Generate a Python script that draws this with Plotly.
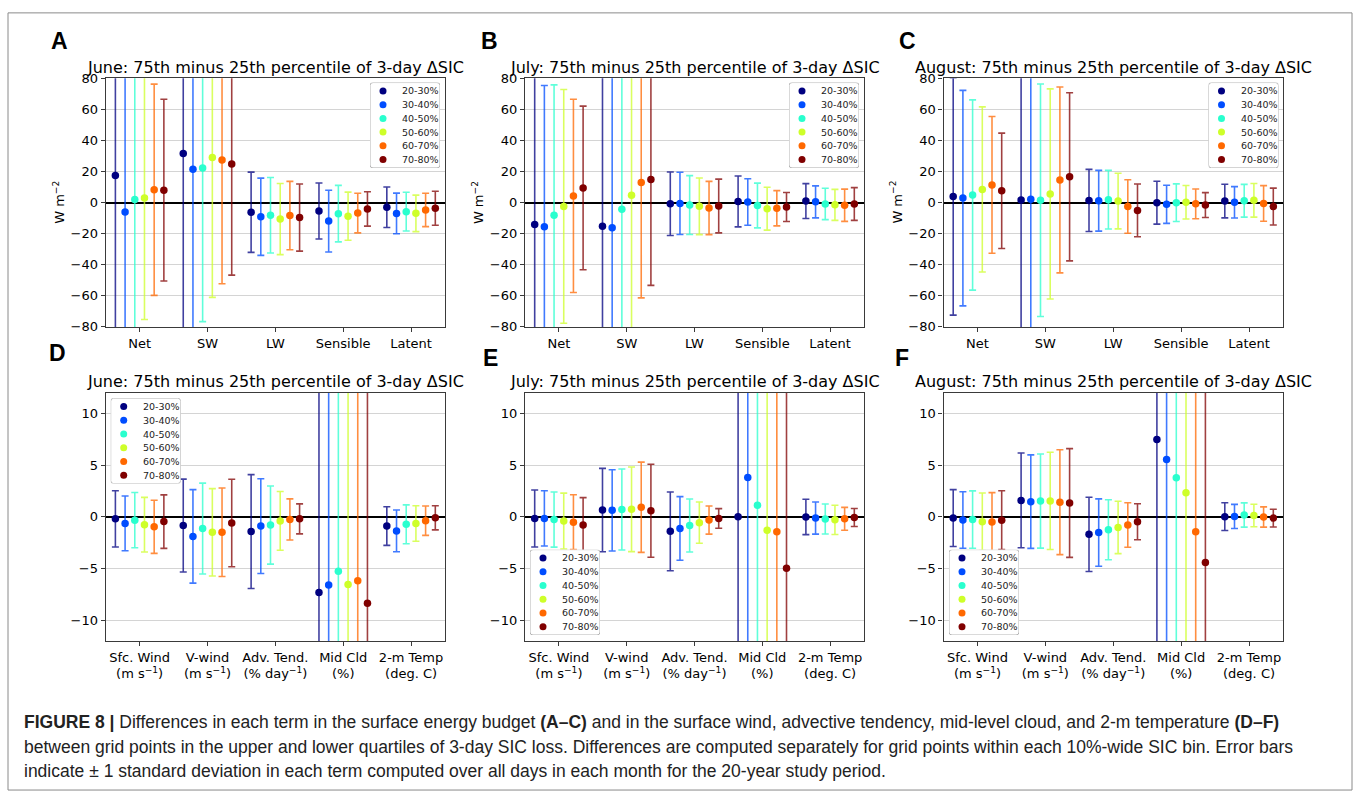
import plotly.graph_objects as go

W, H = 1354, 800

bins = ["20-30%", "30-40%", "40-50%", "50-60%", "60-70%", "70-80%"]
bin_colors = ["#000080", "#004dff", "#29ffce", "#ceff29", "#ff6800", "#800000"]
bar_colors = ["rgba(0,0,128,0.75)", "rgba(0,77,255,0.75)", "rgba(41,255,206,0.75)",
              "rgba(206,255,41,0.75)", "rgba(255,104,0,0.75)", "rgba(128,0,0,0.75)"]

energy_terms = ["Net", "SW", "LW", "Sensible", "Latent"]
met_terms = ["Sfc. Wind<br>(m s<sup>−1</sup>)", "V-wind<br>(m s<sup>−1</sup>)",
             "Adv. Tend.<br>(% day<sup>−1</sup>)", "Mid Cld<br>(%)", "2-m Temp<br>(deg. C)"]

energy_ticks = [-80, -60, -40, -20, 0, 20, 40, 60, 80]
energy_ticktext = ["−80", "−60", "−40", "−20", "0", "20", "40", "60", "80"]
met_ticks = [-10, -5, 0, 5, 10]
met_ticktext = ["−10", "−5", "0", "5", "10"]

# rows: SIC bins (20-30% ... 70-80%); columns: Net, SW, LW, Sensible, Latent
june_energy_mean = [[17.5, 31.6, -6.2, -5.4, -2.95],
                    [-6.0, 21.5, -9.1, -11.9, -6.95],
                    [2.0, 22.3, -8.1, -7.1, -5.8],
                    [3.0, 29.0, -10.6, -8.75, -6.9],
                    [8.3, 27.4, -8.3, -6.7, -4.7],
                    [8.0, 24.8, -9.6, -4.1, -3.6]]
june_energy_std = [[110, 120, 25.8, 18.0, 13.05],
                   [100, 115, 24.85, 19.9, 13.05],
                   [95, 98.9, 24.3, 18.2, 12.5],
                   [78.2, 90.0, 22.9, 15.5, 11.75],
                   [68.0, 79.6, 22.0, 12.75, 10.75],
                   [58.5, 71.5, 21.6, 11.05, 10.95]]

july_energy_mean = [[-14.1, -15.2, -0.7, 0.75, 1.0],
                    [-15.6, -16.2, -0.5, 0.4, 0.5],
                    [-8.2, -4.2, -1.6, -1.85, -0.85],
                    [-2.45, 4.8, -2.4, -3.9, -1.45],
                    [4.3, 13.0, -3.45, -3.6, -1.7],
                    [9.45, 14.9, -2.2, -2.85, -0.9]]
july_energy_std = [[100, 110, 20.45, 16.35, 11.25],
                   [91, 110, 20.0, 14.95, 10.3],
                   [84, 95, 18.95, 14.4, 10.1],
                   [75.25, 92, 18.2, 13.8, 10.0],
                   [62.2, 74.3, 17.15, 11.35, 10.4],
                   [52.65, 68.2, 17.3, 9.35, 10.55]]

august_energy_mean = [[4.0, 1.7, 1.4, -0.05, 1.0],
                      [2.9, 2.1, 1.2, -1.1, 0.2],
                      [4.9, 1.5, 1.9, -0.05, 1.2],
                      [8.5, 5.6, 1.0, 0.25, 1.5],
                      [11.4, 14.6, -2.5, -0.8, -0.5],
                      [7.6, 16.6, -5.0, -1.6, -2.55]]
august_energy_std = [[76.4, 95, 20.0, 13.8, 10.85],
                     [69.35, 90, 19.55, 12.25, 10.1],
                     [61.25, 74.85, 18.85, 12.1, 10.55],
                     [53.15, 67.6, 17.9, 10.8, 10.85],
                     [44.0, 59.8, 17.25, 9.55, 11.45],
                     [37.15, 54.1, 16.95, 8.0, 11.9]]

# rows: SIC bins; columns: Sfc. Wind, V-wind, Adv. Tend., Mid Cld, 2-m Temp
june_met_mean = [[-0.2, -0.85, -1.43, -7.33, -0.9],
                 [-0.64, -1.9, -0.9, -6.6, -1.37],
                 [-0.33, -1.14, -0.8, -5.28, -0.73],
                 [-0.77, -1.5, -0.4, -6.54, -0.65],
                 [-0.97, -1.5, -0.26, -6.19, -0.38],
                 [-0.47, -0.6, -0.2, -8.37, -0.1]]
june_met_std = [[2.72, 4.49, 5.5, 25, 1.87],
                [2.64, 4.52, 4.58, 24, 2.02],
                [2.67, 4.39, 3.78, 23, 1.88],
                [2.64, 4.22, 2.84, 23, 1.72],
                [2.57, 4.28, 1.99, 22, 1.42],
                [2.59, 4.23, 1.45, 24, 1.17]]

july_met_mean = [[-0.17, 0.65, -1.41, 0.0, -0.02],
                 [-0.16, 0.62, -1.13, 3.79, -0.13],
                 [-0.27, 0.7, -0.85, 1.11, -0.22],
                 [-0.42, 0.72, -0.57, -1.3, -0.3],
                 [-0.52, 0.92, -0.32, -1.45, -0.2],
                 [-0.8, 0.58, -0.16, -4.99, -0.07]]
july_met_std = [[2.75, 4.03, 3.81, 20, 1.71],
                [2.67, 3.93, 3.08, 22, 1.55],
                [2.67, 3.92, 2.56, 20, 1.45],
                [2.7, 4.09, 1.99, 20, 1.41],
                [2.65, 4.36, 1.36, 20, 1.11],
                [2.65, 4.49, 0.95, 22, 0.87]]

august_met_mean = [[-0.13, 1.58, -1.7, 7.46, 0.01],
                   [-0.31, 1.46, -1.53, 5.53, 0.03],
                   [-0.27, 1.52, -1.25, 3.76, 0.17],
                   [-0.49, 1.53, -1.03, 2.31, 0.12],
                   [-0.5, 1.41, -0.8, -1.45, -0.02],
                   [-0.33, 1.33, -0.48, -4.42, -0.13]]
august_met_std = [[2.75, 4.58, 3.59, 25, 1.34],
                  [2.73, 4.52, 3.26, 24, 1.17],
                  [2.77, 4.55, 2.9, 22, 1.17],
                  [2.78, 4.7, 2.53, 20, 1.09],
                  [2.83, 5.07, 2.15, 20, 0.98],
                  [2.84, 5.26, 1.74, 22, 0.86]]

title_suffix = ": 75th minus 25th percentile of 3-day ΔSIC"

panels = [
    dict(letter="A", month="June", terms=energy_terms, mean=june_energy_mean, std=june_energy_std, energy=True),
    dict(letter="B", month="July", terms=energy_terms, mean=july_energy_mean, std=july_energy_std, energy=True),
    dict(letter="C", month="August", terms=energy_terms, mean=august_energy_mean, std=august_energy_std, energy=True),
    dict(letter="D", month="June", terms=met_terms, mean=june_met_mean, std=june_met_std, energy=False),
    dict(letter="E", month="July", terms=met_terms, mean=july_met_mean, std=july_met_std, energy=False),
    dict(letter="F", month="August", terms=met_terms, mean=august_met_mean, std=august_met_std, energy=False),
]

# layout geometry in pixels
col_x = [(105.7, 445.0), (525.0, 864.0), (943.5, 1283.0)]
row_y = [(72.7, 326.0), (393.0, 646.0)]
letter_pos = [(59.5, 34.5), (489, 34.5), (907, 34.5), (57.5, 353), (490, 358), (902, 358)]
# legend (key) box: left x, top y in pixels
key_box = [(370, 77), (789, 77), (1208.5, 77), (110.7, 398.7), (530, 553), (949, 553)]
KEY_W, KEY_H, KEY_MARK_X, KEY_TEXT_X, KEY_TOP_PAD, KEY_ROW = 70, 87, 13, 30, 8.5, 14


def px(x):
    return x / W


def py(y):
    return 1 - y / H


fig = go.Figure()
layout = dict(width=W, height=H, margin=dict(l=0, r=0, t=0, b=0),
              paper_bgcolor="white", plot_bgcolor="white",
              font=dict(family="DejaVu Sans", color="black", size=13),
              showlegend=False)
annotations = []
shapes = []

n_bins = len(bins)
for k, p in enumerate(panels):
    r, c = divmod(k, 3)
    ax_suffix = "" if k == 0 else str(k + 1)
    xref = "x" + ax_suffix
    yref = "y" + ax_suffix
    for j in range(n_bins):
        xs = [i + (j - (n_bins - 1) / 2) / 7 for i in range(len(p["terms"]))]
        fig.add_trace(go.Scatter(
            x=xs, y=p["mean"][j], mode="markers", name=bins[j],
            marker=dict(color=bin_colors[j], size=7.5, line=dict(width=0)),
            error_y=dict(type="data", array=p["std"][j], visible=True,
                         color=bar_colors[j], thickness=1.6, width=3.5),
            xaxis=xref, yaxis=yref, showlegend=False))
    x0, x1 = col_x[c]
    y0, y1 = row_y[r]
    layout["xaxis" + ax_suffix] = dict(
        domain=[px(x0), px(x1)], anchor=yref, range=[-0.5, 4.5],
        tickmode="array", tickvals=list(range(len(p["terms"]))), ticktext=p["terms"],
        showgrid=False, zeroline=False, showline=True, mirror=True,
        linecolor="#3a3a3a", linewidth=1.2, ticks="outside", ticklen=4,
        tickcolor="#3a3a3a", tickfont=dict(size=13, family="DejaVu Sans", color="black"))
    if p["energy"]:
        yr, tv, tt = [-80, 80], energy_ticks, energy_ticktext
    else:
        yr, tv, tt = [-12, 12], met_ticks, met_ticktext
    layout["yaxis" + ax_suffix] = dict(
        domain=[py(y1), py(y0)], anchor=xref, range=yr,
        tickmode="array", tickvals=tv, ticktext=tt,
        showgrid=True, gridcolor="#d4d4d4", gridwidth=1,
        zeroline=True, zerolinecolor="black", zerolinewidth=2,
        showline=True, mirror=True, linecolor="#3a3a3a", linewidth=1.2,
        ticks="outside", ticklen=4, tickcolor="#3a3a3a",
        tickfont=dict(size=13, family="DejaVu Sans", color="black"))

    # subplot title
    annotations.append(dict(
        x=px((x0 + x1) / 2), y=py(y0 - 11.5), xref="paper", yref="paper",
        text=p["month"] + title_suffix, showarrow=False, xanchor="center", yanchor="middle",
        font=dict(size=16, family="DejaVu Sans", color="black")))
    # y label
    if p["energy"]:
        annotations.append(dict(
            x=px(x0 - 47.5), y=py((y0 + y1) / 2), xref="paper", yref="paper",
            text="W m<sup>−2</sup>", showarrow=False, textangle=-90,
            xanchor="center", yanchor="middle",
            font=dict(size=13, family="DejaVu Sans", color="black")))
    # panel letter
    lx, ly = letter_pos[k]
    annotations.append(dict(
        x=px(lx), y=py(ly), xref="paper", yref="paper", text="<b>" + p["letter"] + "</b>",
        showarrow=False, xanchor="center", yanchor="middle",
        font=dict(size=23, family="Liberation Sans", color="black")))

# legend keys: one small inset axes per panel (drawn over its panel)
for k in range(len(panels)):
    m = 7 + k
    kx, ky = key_box[k]
    kxref, kyref = "x%d" % m, "y%d" % m
    top = -KEY_TOP_PAD / KEY_ROW
    bottom = top + KEY_H / KEY_ROW
    xlo, xhi = -KEY_MARK_X, KEY_W - KEY_MARK_X
    layout["xaxis%d" % m] = dict(domain=[px(kx), px(kx + KEY_W)], anchor=kyref,
                                 range=[xlo, xhi], visible=False, fixedrange=True)
    layout["yaxis%d" % m] = dict(domain=[py(ky + KEY_H), py(ky)], anchor=kxref,
                                 range=[bottom, top], visible=False, fixedrange=True)
    fig.add_trace(go.Scatter(
        x=[0] * n_bins, y=list(range(n_bins)), mode="markers",
        marker=dict(color=bin_colors, size=7, line=dict(width=0)),
        xaxis=kxref, yaxis=kyref, showlegend=False, hoverinfo="skip", cliponaxis=False))
    for j, b in enumerate(bins):
        annotations.append(dict(
            x=KEY_TEXT_X - KEY_MARK_X, y=j, xref=kxref, yref=kyref, text=b,
            showarrow=False, xanchor="left", yanchor="middle",
            font=dict(size=9.5, family="DejaVu Sans", color="#222222")))
    rx, ry = 3.0, 3.0 / KEY_ROW
    path = ("M {a},{t} L {b},{t} Q {xh},{t} {xh},{t2} L {xh},{b2} Q {xh},{bo} {b},{bo} "
            "L {a},{bo} Q {xl},{bo} {xl},{b2} L {xl},{t2} Q {xl},{t} {a},{t} Z").format(
        a=xlo + rx, b=xhi - rx, t=top, t2=top + ry, bo=bottom, b2=bottom - ry, xl=xlo, xh=xhi)
    shapes.append(dict(type="path", xref=kxref, yref=kyref, path=path, layer="below",
                       fillcolor="rgba(255,255,255,0.82)", line=dict(color="#b4b4b4", width=1)))

caption_lines = [
    "<b>FIGURE 8 |</b> Differences in each term in the surface energy budget <b>(A–C)</b> and in the surface wind, "
    "advective tendency, mid-level cloud, and 2-m temperature <b>(D–F)</b>",
    "between grid points in the upper and lower quartiles of 3-day SIC loss. Differences are computed separately "
    "for grid points within each 10%-wide SIC bin. Error bars",
    "indicate ± 1 standard deviation in each term computed over all days in each month for the 20-year study period.",
]
caption_y = [729, 754, 779]
for line, yy in zip(caption_lines, caption_y):
    annotations.append(dict(
        x=px(22), y=py(yy), xref="paper", yref="paper", text=line, showarrow=False,
        xanchor="left", yanchor="middle",
        font=dict(size=17.5, family="Liberation Sans", color="#222222")))

shapes.append(dict(type="rect", xref="paper", yref="paper",
                   x0=px(8), x1=px(1352), y0=py(798), y1=py(6),
                   line=dict(color="#8a8a8a", width=1), fillcolor="rgba(0,0,0,0)"))
layout["annotations"] = annotations
layout["shapes"] = shapes
fig.update_layout(**layout)
fig.write_html("out.html")
